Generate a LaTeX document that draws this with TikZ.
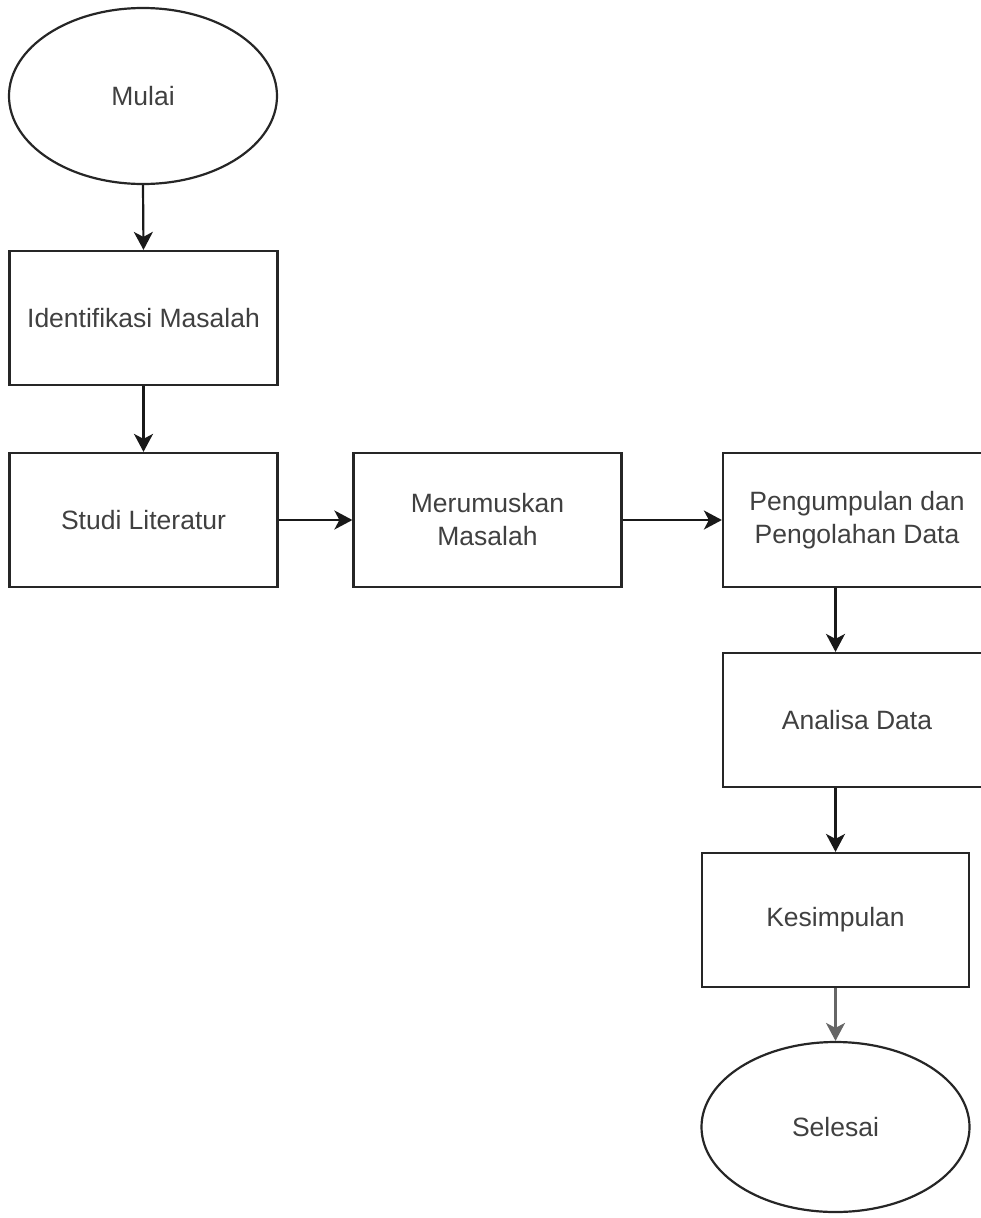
\documentclass[tikz,border=0pt]{standalone}
\usepackage{fontspec}
\setmainfont{Liberation Sans}
\usetikzlibrary{shapes.geometric,arrows.meta}
\begin{document}
\begin{tikzpicture}[x=1pt,y=-1pt,
  base/.style={draw=black!85,line width=2.2pt,fill=white,inner sep=0pt,align=center,
    text=black!75,font=\fontsize{26.5}{33}\selectfont},
  box/.style={base,rectangle,minimum width=268pt,minimum height=134pt},
  oval/.style={base,ellipse,minimum width=268pt,minimum height=176pt},
  conn/.style={draw=black!90,line width=2.2pt,-{Stealth[length=18pt,width=19pt,inset=5pt]}}]
\useasboundingbox (0,0) rectangle (980,1218);
\node[oval] (mulai) at (143,96) {Mulai};
\node[box] (id) at (143.5,318) {Identifikasi Masalah};
\node[box] (st) at (143.5,520) {Studi Literatur};
\node[box] (mr) at (487.5,520) {Merumuskan\\Masalah};
\node[box] (pg) at (857,520) {Pengumpulan dan\\Pengolahan Data};
\node[box] (an) at (857,720) {Analisa Data};
\node[box,minimum width=267pt] (ks) at (835.5,920) {Kesimpulan};
\node[oval,minimum height=170pt] (se) at (835.5,1127) {Selesai};
\draw[conn] (mulai.south) -- (id.north);
\draw[conn] (id.south) -- (st.north);
\draw[conn] (st.east) -- (mr.west);
\draw[conn] (mr.east) -- (pg.west);
\draw[conn] (pg.south -| ks.north) -- (an.north -| ks.north);
\draw[conn] (an.south -| ks.north) -- (ks.north);
\draw[conn,draw=black!60] (ks.south) -- (se.north);
\end{tikzpicture}
\end{document}
